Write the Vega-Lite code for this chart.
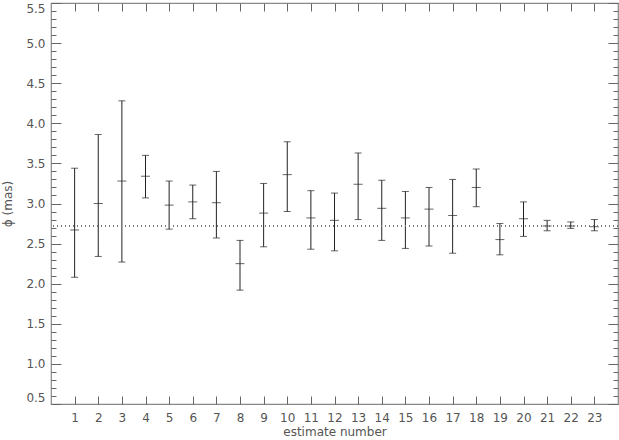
{
  "$schema": "https://vega.github.io/schema/vega-lite/v6.json",
  "width": 567,
  "height": 401,
  "autosize": {"type": "none"},
  "padding": {"left": 51, "top": 3, "right": 1, "bottom": 36},
  "background": "white",
  "config": {
    "view": {"stroke": "#888888", "strokeWidth": 1.2},
    "axis": {
      "labelFont": "DejaVu Sans",
      "titleFont": "DejaVu Sans",
      "labelFontSize": 12,
      "titleFontSize": 12,
      "labelColor": "#555555",
      "titleColor": "#555555",
      "titleFontWeight": "normal",
      "tickColor": "#666666",
      "grid": false,
      "domain": false
    }
  },
  "data": {
    "values": [
      {"est": 1, "lo": 2.08, "mid": 2.67, "hi": 3.44},
      {"est": 2, "lo": 2.34, "mid": 3.0, "hi": 3.86},
      {"est": 3, "lo": 2.27, "mid": 3.28, "hi": 4.28},
      {"est": 4, "lo": 3.07, "mid": 3.34, "hi": 3.6},
      {"est": 5, "lo": 2.68, "mid": 2.98, "hi": 3.28},
      {"est": 6, "lo": 2.81, "mid": 3.02, "hi": 3.23},
      {"est": 7, "lo": 2.57, "mid": 3.01, "hi": 3.4},
      {"est": 8, "lo": 1.92, "mid": 2.25, "hi": 2.54},
      {"est": 9, "lo": 2.46, "mid": 2.88, "hi": 3.25},
      {"est": 10, "lo": 2.9, "mid": 3.36, "hi": 3.77},
      {"est": 11, "lo": 2.43, "mid": 2.82, "hi": 3.16},
      {"est": 12, "lo": 2.41, "mid": 2.79, "hi": 3.13},
      {"est": 13, "lo": 2.8, "mid": 3.24, "hi": 3.63},
      {"est": 14, "lo": 2.54, "mid": 2.94, "hi": 3.29},
      {"est": 15, "lo": 2.44, "mid": 2.82, "hi": 3.15},
      {"est": 16, "lo": 2.47, "mid": 2.93, "hi": 3.2},
      {"est": 17, "lo": 2.38, "mid": 2.85, "hi": 3.3},
      {"est": 18, "lo": 2.96, "mid": 3.2, "hi": 3.43},
      {"est": 19, "lo": 2.36, "mid": 2.55, "hi": 2.75},
      {"est": 20, "lo": 2.59, "mid": 2.81, "hi": 3.02},
      {"est": 21, "lo": 2.66, "mid": 2.72, "hi": 2.79},
      {"est": 22, "lo": 2.69, "mid": 2.72, "hi": 2.77},
      {"est": 23, "lo": 2.66, "mid": 2.71, "hi": 2.8}
    ]
  },
  "resolve": {"axis": {"x": "independent", "y": "independent"}},
  "layer": [
    {
      "mark": {"type": "rule", "color": "#222222", "strokeWidth": 1},
      "encoding": {
        "x": {
          "field": "est", "type": "quantitative",
          "scale": {"domain": [0, 24], "nice": false, "zero": false},
          "axis": {
            "orient": "bottom",
            "values": [1,2,3,4,5,6,7,8,9,10,11,12,13,14,15,16,17,18,19,20,21,22,23],
            "tickSize": -8, "labelPadding": 16, "title": "estimate number", "titlePadding": 3
          }
        },
        "y": {
          "field": "lo", "type": "quantitative",
          "scale": {"domain": [0.5, 5.5], "nice": false, "zero": false},
          "axis": {
            "orient": "left",
            "values": [0.5,1.0,1.5,2.0,2.5,3.0,3.5,4.0,4.5,5.0,5.5],
            "format": ".1f",
            "labelFlush": true, "labelFlushOffset": 0,
            "tickSize": -10, "labelPadding": 16, "title": "ϕ (mas)", "titlePadding": 11
          }
        },
        "y2": {"field": "hi"}
      }
    },
    {
      "mark": {"type": "tick", "orient": "horizontal", "color": "#222222", "size": 7, "thickness": 1},
      "encoding": {
        "x": {
          "field": "est", "type": "quantitative",
          "axis": {
            "orient": "top",
            "values": [1,2,3,4,5,6,7,8,9,10,11,12,13,14,15,16,17,18,19,20,21,22,23],
            "tickSize": -8, "labels": false, "title": null
          }
        },
        "y": {
          "field": "lo", "type": "quantitative",
          "axis": {
            "orient": "left",
            "values": [0.6,0.7,0.8,0.9,1.1,1.2,1.3,1.4,1.6,1.7,1.8,1.9,2.1,2.2,2.3,2.4,2.6,2.7,2.8,2.9,3.1,3.2,3.3,3.4,3.6,3.7,3.8,3.9,4.1,4.2,4.3,4.4,4.6,4.7,4.8,4.9,5.1,5.2,5.3,5.4],
            "tickSize": -5, "labels": false, "title": null
          }
        }
      }
    },
    {
      "mark": {"type": "tick", "orient": "horizontal", "color": "#222222", "size": 7, "thickness": 1},
      "encoding": {
        "x": {"field": "est", "type": "quantitative", "axis": null},
        "y": {
          "field": "hi", "type": "quantitative",
          "axis": {
            "orient": "right",
            "values": [0.5,1.0,1.5,2.0,2.5,3.0,3.5,4.0,4.5,5.0,5.5],
            "tickSize": -10, "labels": false, "title": null
          }
        }
      }
    },
    {
      "mark": {"type": "tick", "orient": "horizontal", "color": "#222222", "size": 9, "thickness": 1},
      "encoding": {
        "x": {"field": "est", "type": "quantitative", "axis": null},
        "y": {
          "field": "mid", "type": "quantitative",
          "axis": {
            "orient": "right",
            "values": [0.6,0.7,0.8,0.9,1.1,1.2,1.3,1.4,1.6,1.7,1.8,1.9,2.1,2.2,2.3,2.4,2.6,2.7,2.8,2.9,3.1,3.2,3.3,3.4,3.6,3.7,3.8,3.9,4.1,4.2,4.3,4.4,4.6,4.7,4.8,4.9,5.1,5.2,5.3,5.4],
            "tickSize": -5, "labels": false, "title": null
          }
        }
      }
    },
    {
      "mark": {"type": "rule", "color": "#777777", "strokeWidth": 1, "strokeDash": [1, 3]},
      "encoding": {
        "y": {"datum": 2.72, "type": "quantitative", "axis": null}
      }
    }
  ]
}
